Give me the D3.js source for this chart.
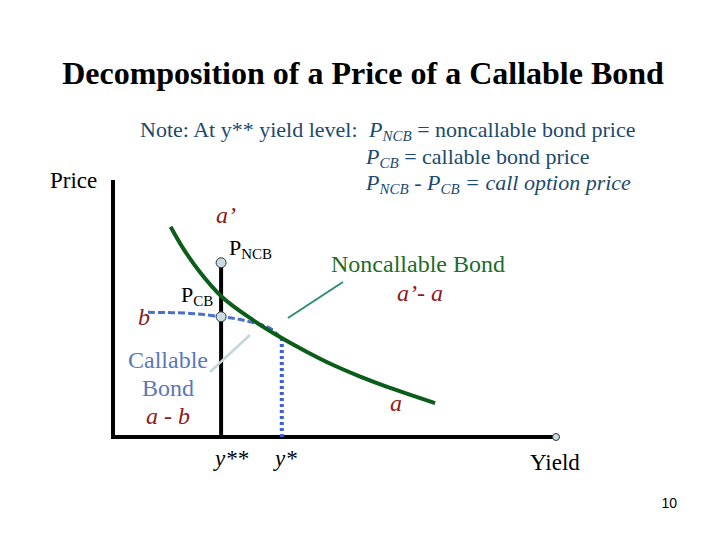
<!DOCTYPE html>
<html>
<head>
<meta charset="utf-8">
<script src="https://cdn.jsdelivr.net/npm/d3@7"></script>
<style>
  body { margin: 0; background: #fff; }
</style>
</head>
<body>
<div id="chart"></div>
<script>
// curve points (yield, price) in arbitrary units 0..10
const noncallableYield = [1.30, 1.58, 1.96, 2.46, 3.16, 3.77, 4.38, 4.97, 5.58, 6.19, 7.27];
const noncallablePrice = [8.18, 7.35, 6.42, 5.45, 4.55, 3.89, 3.31, 2.80, 2.35, 1.95, 1.32];
const callableYield = [0.79, 1.74, 2.44, 2.87, 3.16, 3.54, 3.77];
const callablePrice = [4.85, 4.81, 4.68, 4.57, 4.45, 4.24, 3.89];
const yStarStar = 2.44, yStar = 3.81;
const pNCB = 6.78, pCB = 4.68, pAtYStar = 3.85;
const axisMax = 10;

const w = 720, h = 540;
const serif = "'Liberation Serif', 'Times New Roman', serif";
const x = d3.scaleLinear().domain([0, axisMax]).range([113, 556]);
const y = d3.scaleLinear().domain([0, axisMax]).range([437, 180]);

const svg = d3.select("#chart").append("svg")
    .attr("width", w)
    .attr("height", h)
    .attr("font-family", serif)
    .style("display", "block");

const line = d3.line()
    .x(d => x(d[0]))
    .y(d => y(d[1]))
    .curve(d3.curveCatmullRom);

// title
svg.append("text")
    .attr("x", 363).attr("y", 84)
    .attr("text-anchor", "middle")
    .attr("font-weight", "bold")
    .attr("font-size", 32)
    .text("Decomposition of a Price of a Callable Bond");

// note block
const noteColor = "#1c4a6e";
const note = svg.append("g").attr("fill", noteColor).attr("font-size", 22);
note.append("text").attr("x", 140).attr("y", 137).text("Note: At y** yield level:");

function sub(t, parts, italicAll) {
    parts.forEach(p => {
        const ts = t.append("tspan").text(p.t);
        if (p.i || italicAll) ts.attr("font-style", "italic");
        if (p.sub) ts.attr("font-size", 15).attr("dy", 4);
        if (p.up) ts.attr("dy", -4);
    });
}
sub(note.append("text").attr("x", 369).attr("y", 137), [
    {t: "P", i: true}, {t: "NCB", i: true, sub: true}, {t: " = noncallable bond price", up: true}
]);
sub(note.append("text").attr("x", 366).attr("y", 164), [
    {t: "P", i: true}, {t: "CB", i: true, sub: true}, {t: " = callable bond price", up: true}
]);
sub(note.append("text").attr("x", 366).attr("y", 190), [
    {t: "P"}, {t: "NCB", sub: true}, {t: " - P", up: true}, {t: "CB", sub: true}, {t: " = call option price", up: true}
], true);

// axes
svg.append("path")
    .attr("d", d3.line()([[x(0), y(axisMax)], [x(0), y(0)], [x(axisMax), y(0)]]))
    .attr("fill", "none")
    .attr("stroke", "#000")
    .attr("stroke-width", 4);

svg.append("text").attr("x", 50).attr("y", 188).attr("font-size", 23).text("Price");
svg.append("text").attr("x", 530).attr("y", 470).attr("font-size", 23).text("Yield");

// vertical at y**
svg.append("line")
    .attr("x1", x(yStarStar)).attr("x2", x(yStarStar))
    .attr("y1", y(pNCB)).attr("y2", y(0))
    .attr("stroke", "#000").attr("stroke-width", 4);

// vertical dotted at y*
svg.append("line")
    .attr("x1", x(yStar)).attr("x2", x(yStar))
    .attr("y1", y(pAtYStar)).attr("y2", y(0))
    .attr("stroke", "#3f5fcf").attr("stroke-width", 4)
    .attr("stroke-dasharray", "3,3");

// callable bond (dashed)
svg.append("path")
    .datum(d3.zip(callableYield, callablePrice))
    .attr("d", line)
    .attr("fill", "none")
    .attr("stroke", "#4a6fd0")
    .attr("stroke-width", 3)
    .attr("stroke-dasharray", "7,3");

// noncallable bond
svg.append("path")
    .datum(d3.zip(noncallableYield, noncallablePrice))
    .attr("d", line)
    .attr("fill", "none")
    .attr("stroke", "#0b5e1a")
    .attr("stroke-width", 4);

// pointer lines
svg.append("line")
    .attr("x1", x(3.95)).attr("y1", y(4.63))
    .attr("x2", x(5.19)).attr("y2", y(6.03))
    .attr("stroke", "#2a8f6a").attr("stroke-width", 2);
svg.append("line")
    .attr("x1", x(2.19)).attr("y1", y(2.53))
    .attr("x2", x(3.09)).attr("y2", y(3.97))
    .attr("stroke", "#c5d5dc").attr("stroke-width", 2.5);

// point markers
svg.selectAll("circle.pt")
    .data([[yStarStar, pNCB], [yStarStar, pCB], [axisMax, 0]])
    .enter().append("circle")
    .attr("class", "pt")
    .attr("cx", d => x(d[0]))
    .attr("cy", d => y(d[1]))
    .attr("r", (d, i) => i === 2 ? 3.5 : 5)
    .attr("fill", "#c8dde3")
    .attr("stroke", "#333")
    .attr("stroke-width", 1);

// labels on the curves
const red = "#8b1a1a";
const lab = (tx, ty, txt, color, size, italic) => svg.append("text")
    .attr("x", tx).attr("y", ty)
    .attr("fill", color).attr("font-size", size)
    .attr("font-style", italic ? "italic" : null)
    .text(txt);

lab(216, 223, "a\u2019", red, 24, true);
lab(138, 325, "b", red, 24, true);
lab(390, 411, "a", red, 24, true);
lab(397, 301, "a\u2019- a", red, 24, true);
lab(331, 272, "Noncallable Bond", "#1e6b2a", 24, false);

svg.append("text").attr("x", 168).attr("y", 368).attr("text-anchor", "middle")
    .attr("fill", "#5a78b8").attr("font-size", 24).text("Callable");
svg.append("text").attr("x", 168).attr("y", 396).attr("text-anchor", "middle")
    .attr("fill", "#5a78b8").attr("font-size", 24).text("Bond");
svg.append("text").attr("x", 168).attr("y", 424).attr("text-anchor", "middle")
    .attr("fill", red).attr("font-size", 24).attr("font-style", "italic").text("a - b");

sub(svg.append("text").attr("x", 229).attr("y", 255).attr("font-size", 22), [
    {t: "P"}, {t: "NCB", sub: true}
]);
sub(svg.append("text").attr("x", 181).attr("y", 302).attr("font-size", 22), [
    {t: "P"}, {t: "CB", sub: true}
]);

svg.append("text").attr("x", 215).attr("y", 466).attr("font-size", 23).attr("font-style", "italic").text("y**");
svg.append("text").attr("x", 275).attr("y", 466).attr("font-size", 23).attr("font-style", "italic").text("y*");

svg.append("text").attr("x", 677).attr("y", 508).attr("text-anchor", "end")
    .attr("font-family", "'Liberation Sans', Arial, sans-serif")
    .attr("font-size", 14).text("10");
</script>
</body>
</html>
